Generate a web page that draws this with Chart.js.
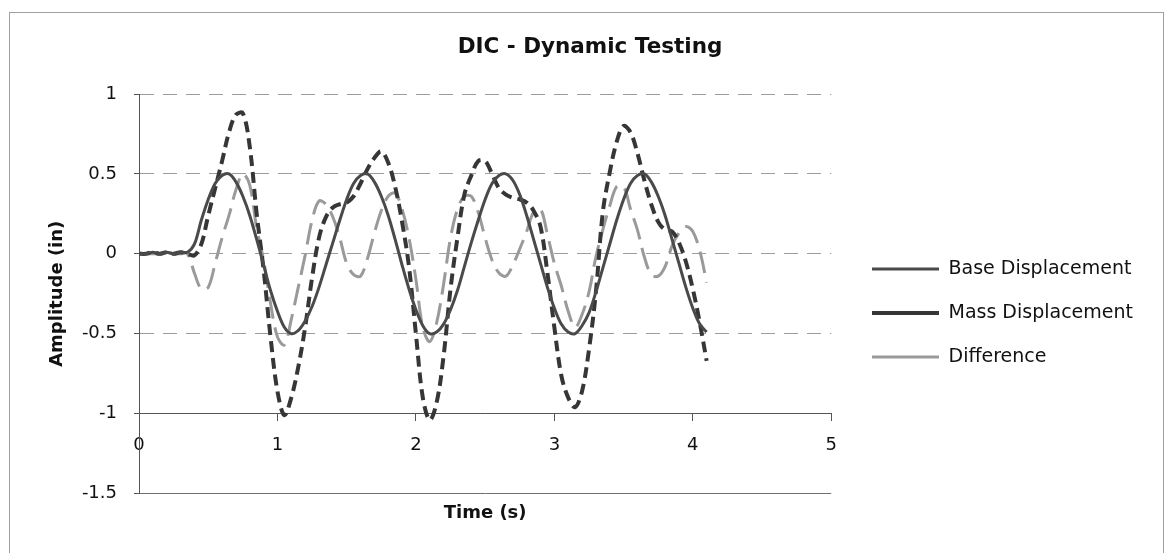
<!DOCTYPE html>
<html>
<head>
<meta charset="utf-8">
<script src="https://cdn.jsdelivr.net/npm/chart.js@4.4.1/dist/chart.umd.min.js"></script>
<style>
  html, body { margin: 0; padding: 0; background: #ffffff; }
  canvas { display: block; }
</style>
</head>
<body>
<canvas id="chart" width="1167" height="553"></canvas>
<script>
// ---- Data ----
const chartTitle = 'DIC - Dynamic Testing';
const xAxisTitle = 'Time (s)';
const yAxisTitle = 'Amplitude (in)';
const seriesNames = ['Base Displacement', 'Mass Displacement', 'Difference'];

const timeValues = [0, 0.05, 0.1, 0.15, 0.2, 0.25, 0.3, 0.35, 0.4, 0.45, 0.5, 0.55, 0.6, 0.65, 0.7, 0.75, 0.8, 0.85, 0.9, 0.95,
  1, 1.05, 1.1, 1.15, 1.2, 1.25, 1.3, 1.35, 1.4, 1.45, 1.5, 1.55, 1.6, 1.65, 1.7, 1.75, 1.8, 1.85, 1.9, 1.95,
  2, 2.05, 2.1, 2.15, 2.2, 2.25, 2.3, 2.35, 2.4, 2.45, 2.5, 2.55, 2.6, 2.65, 2.7, 2.75, 2.8, 2.85, 2.9, 2.95,
  3, 3.05, 3.1, 3.15, 3.2, 3.25, 3.3, 3.35, 3.4, 3.45, 3.5, 3.55, 3.6, 3.65, 3.7, 3.75, 3.8, 3.85, 3.9, 3.95,
  4, 4.05, 4.1];

const baseValues = [0, 0, 0.01, 0, 0.01, 0, 0.01, 0.01,
  0.06, 0.21, 0.34, 0.44, 0.49, 0.50, 0.45, 0.36, 0.24, 0.09, -0.07, -0.23, -0.36, -0.46, -0.50, -0.48, -0.42, -0.33, -0.21, -0.07,
  0.07, 0.21, 0.34, 0.44, 0.49, 0.50, 0.45, 0.36, 0.24, 0.09, -0.07, -0.22, -0.35, -0.45, -0.50, -0.49, -0.44, -0.35, -0.23, -0.08,
  0.07, 0.21, 0.34, 0.44, 0.49, 0.50, 0.46, 0.37, 0.24, 0.09, -0.06, -0.21, -0.34, -0.44, -0.49, -0.50, -0.45, -0.37, -0.24, -0.09,
  0.06, 0.21, 0.34, 0.44, 0.49, 0.50, 0.45, 0.36, 0.24, 0.09, -0.06, -0.21, -0.34, -0.44, -0.49];

const massValues = [0, 0, 0.01, 0, 0.01, 0, 0.01, 0,
  -0.01, 0.06, 0.24, 0.41, 0.58, 0.76, 0.87, 0.88, 0.67, 0.25,
  -0.10, -0.52, -0.86, -1.01, -0.90, -0.71, -0.46, -0.15, 0.10, 0.23,
  0.29, 0.31, 0.32, 0.36, 0.44, 0.53, 0.60, 0.64, 0.57, 0.42,
  0.20, -0.08, -0.50, -0.90, -1.04, -0.93, -0.64, -0.22, 0.10, 0.37,
  0.49, 0.58, 0.58, 0.50, 0.41, 0.37, 0.35, 0.34, 0.32, 0.27,
  0.17, -0.12, -0.46, -0.76, -0.90, -0.96, -0.86, -0.60, -0.24, 0.26,
  0.51, 0.70, 0.80, 0.76, 0.63, 0.46, 0.31, 0.20, 0.15, 0.14,
  0.07, -0.05, -0.22, -0.43, -0.67];

const differenceValues = [0, 0, 0, 0, 0.01, 0, 0, 0,
  -0.12, -0.22, -0.21, -0.06, 0.10, 0.24, 0.40, 0.50, 0.43, 0.16,
  -0.04, -0.31, -0.52, -0.57, -0.41, -0.21, -0.01, 0.21, 0.33, 0.31,
  0.23, 0.10, -0.06, -0.13, -0.14, -0.03, 0.13, 0.27, 0.36, 0.38,
  0.28, 0.10, -0.16, -0.46, -0.55, -0.43, -0.19, 0.10, 0.28, 0.36,
  0.36, 0.26, 0.10, -0.04, -0.12, -0.14, -0.07, 0.03, 0.14, 0.26,
  0.28, 0.12, -0.06, -0.20, -0.36, -0.46, -0.38, -0.24, -0.02, 0.15,
  0.30, 0.42, 0.42, 0.28, 0.15, -0.02, -0.13, -0.14, -0.08, 0.05,
  0.13, 0.17, 0.14, 0.02, -0.18];

const xTickValues = [0, 1, 2, 3, 4, 5];
const xTickLabels = ['0', '1', '2', '3', '4', '5'];
const yTickValues = [-1.5, -1, -0.5, 0, 0.5, 1];
const yTickLabels = ['-1.5', '-1', '-0.5', '0', '0.5', '1'];

// ---- Build chart ----
const FONT = "'DejaVu Sans', 'Liberation Sans', sans-serif";
const toPoints = (vals) => timeValues.map((t, i) => ({ x: t, y: vals[i] }));

const framePlugin = {
  id: 'frame',
  beforeDraw(chart) {
    const c = chart.ctx;
    c.save();
    c.fillStyle = '#ffffff';
    c.fillRect(0, 0, chart.width, chart.height);
    c.strokeStyle = '#a0a0a0';
    c.lineWidth = 1;
    c.strokeRect(9.5, 12.5, 1154, 560);
    c.restore();
  }
};

const LEGEND_X = 872, LEGEND_FIRST_Y = 269, TITLE_CENTER_X = 590, YTITLE_SHIFT = 3;
const placementPlugin = {
  id: 'placement',
  afterUpdate(chart) {
    const lg = chart.legend;
    if (lg && lg.legendHitBoxes && lg.legendHitBoxes.length) {
      const hb = lg.legendHitBoxes[0];
      const dx = LEGEND_X - hb.left;
      const dy = (LEGEND_FIRST_Y - hb.height / 2) - hb.top;
      lg.left += dx; lg.top += dy; lg.bottom += dy;
      lg.right = lg.left + 400;
      lg.width = 400;
      lg.legendHitBoxes.forEach(h => { h.left += dx; h.top += dy; });
    }
    const tb = chart.titleBlock;
    if (tb) {
      const dxt = TITLE_CENTER_X - (tb.left + tb.right) / 2;
      tb.left += dxt; tb.right += dxt;
    }
    const ys = chart.scales.y;
    if (ys) { ys.left += YTITLE_SHIFT; }
  }
};

const gridColor = '#9c9c9c';
const axisColor = '#555555';

const options = {
  responsive: false,
  animation: false,
  devicePixelRatio: 1,
  layout: { padding: { left: 10, right: 20, top: 0, bottom: 50 } },
  elements: { point: { radius: 0 } },
  plugins: {
    title: {
      display: true,
      text: chartTitle,
      color: '#111111',
      font: { family: FONT, size: 21.5, weight: 'bold' },
      padding: { top: 35, bottom: 34 }
    },
    legend: {
      display: true,
      position: 'right',
      align: 'center',
      labels: {
        color: '#111111',
        font: { family: FONT, size: 19 },
        usePointStyle: true,
        pointStyle: 'line',
        pointStyleWidth: 67,
        padding: 25
      }
    },
    tooltip: { enabled: false }
  },
  scales: {
    x: {
      type: 'linear',
      min: 0,
      max: 5,
      position: { y: -1 },
      afterBuildTicks: (scale) => { scale.ticks = xTickValues.map(v => ({ value: v })); },
      ticks: {
        color: '#111111',
        font: { family: FONT, size: 18 },
        padding: 14,
        maxRotation: 0,
        callback: (v, i) => xTickLabels[i]
      },
      grid: {
        display: true,
        drawOnChartArea: false,
        drawTicks: true,
        tickLength: 7,
        tickColor: axisColor,
        color: axisColor
      },
      border: { display: true, color: axisColor, width: 1 },
      title: {
        display: true,
        text: xAxisTitle,
        color: '#111111',
        font: { family: FONT, size: 18, weight: 'bold' },
        padding: { top: 32, bottom: 0 }
      }
    },
    y: {
      type: 'linear',
      min: -1.5,
      max: 1,
      position: 'left',
      afterBuildTicks: (scale) => { scale.ticks = yTickValues.map(v => ({ value: v })); },
      ticks: {
        color: '#111111',
        font: { family: FONT, size: 18 },
        padding: 17,
        callback: (v, i) => yTickLabels[i]
      },
      grid: {
        display: true,
        drawOnChartArea: true,
        drawTicks: true,
        tickLength: 5,
        tickColor: axisColor,
        color: (ctx) => (ctx.tick && ctx.tick.value <= -1.4) ? '#707070' : gridColor,
        lineWidth: 1
      },
      border: {
        display: true,
        color: axisColor,
        width: 1,
        dash: (ctx) => (ctx.tick && ctx.tick.value > -0.75) ? [14, 9] : []
      },
      title: {
        display: true,
        text: yAxisTitle,
        color: '#111111',
        font: { family: FONT, size: 18, weight: 'bold' },
        padding: { top: 0, bottom: 0 }
      }
    }
  }
};

const chart = new Chart(document.getElementById('chart').getContext('2d'), {
  type: 'line',
  data: {
    datasets: [
      {
        label: seriesNames[0],
        data: toPoints(baseValues),
        borderColor: '#4a4a4a',
        borderWidth: 3,
        tension: 0.35,
        fill: false
      },
      {
        label: seriesNames[1],
        data: toPoints(massValues),
        borderColor: '#363636',
        borderWidth: 4,
        borderDash: [11, 6],
        tension: 0.35,
        fill: false
      },
      {
        label: seriesNames[2],
        data: toPoints(differenceValues),
        borderColor: '#9a9a9a',
        borderWidth: 3,
        borderDash: [22, 9],
        tension: 0.35,
        fill: false
      }
    ]
  },
  options: options,
  plugins: [framePlugin, placementPlugin]
});

// Fit the plot area to the reference's plot rectangle
const TARGET = { left: 139, right: 831, top: 94, bottom: 493.5 };
for (let k = 0; k < 5; k++) {
  const ca = chart.chartArea;
  const o = chart.config.options;
  const dl = TARGET.left - ca.left;
  const dr = ca.right - TARGET.right;
  const db = ca.bottom - TARGET.bottom;
  const dt = TARGET.top - ca.top;
  if (Math.abs(dl) + Math.abs(dr) + Math.abs(db) + Math.abs(dt) < 0.5) break;
  o.layout.padding.left += dl;
  o.layout.padding.right += dr;
  o.layout.padding.bottom += db;
  o.plugins.title.padding.bottom += dt;
  chart.update('none');
}
</script>
</body>
</html>
